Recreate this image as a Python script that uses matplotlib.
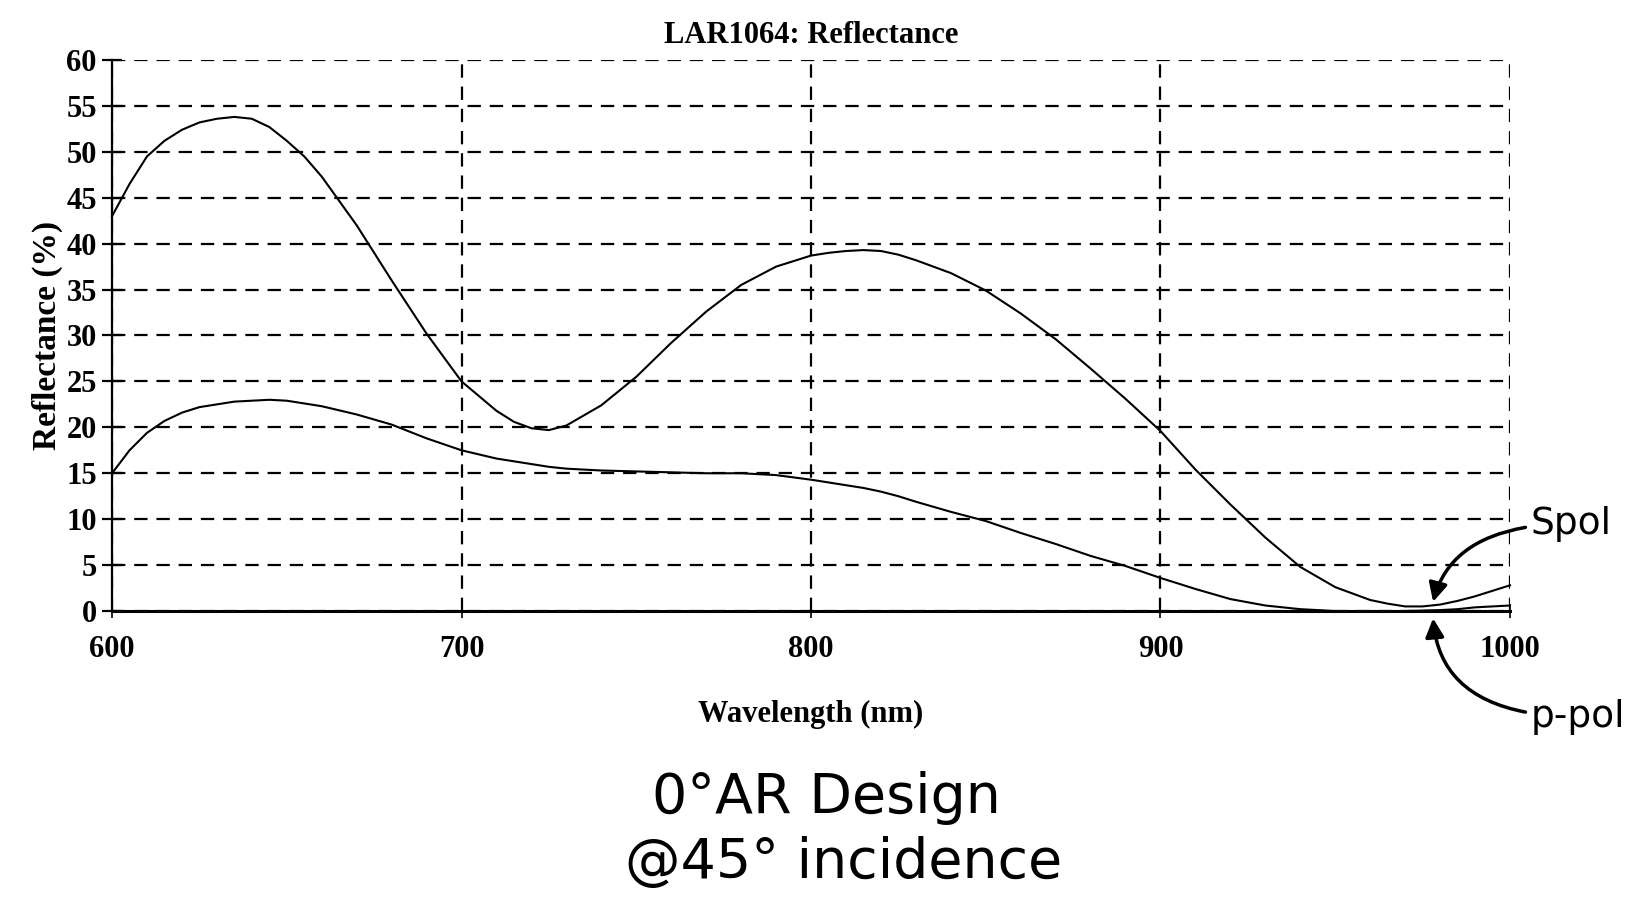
"""LAR1064 reflectance scan: s- and p-pol curves with the handwritten notes."""
import matplotlib
matplotlib.use("Agg")
import matplotlib.pyplot as plt

# ---------------------------------------------------------------------------
# Data
# ---------------------------------------------------------------------------
wavelength = [600, 605, 610, 615, 620, 625, 630, 635, 640, 645, 650, 655, 660,
              670, 680, 690, 700, 710,
              715, 720, 725, 730,
              740, 750, 760, 770, 780, 790, 800,
              805, 810, 815, 820, 825, 830,
              840, 850, 860, 870, 880, 890, 900, 910, 920, 930, 940, 950, 960,
              965, 970, 975, 980, 985, 990,
              1000]

s_pol = [43.0, 46.5, 49.5, 51.2, 52.4, 53.2, 53.6, 53.8, 53.6, 52.7, 51.2, 49.5, 47.3,
         42.0, 36.0, 30.2, 25.0, 21.8,
         20.6, 19.9, 19.7, 20.2,
         22.4, 25.5, 29.2, 32.6, 35.5, 37.5, 38.7,
         39.0, 39.2, 39.3, 39.2, 38.8, 38.2,
         36.8, 34.9, 32.4, 29.6, 26.4, 23.1, 19.6, 15.4, 11.6, 8.0, 4.8, 2.6, 1.2,
         0.8, 0.5, 0.5, 0.7, 1.1, 1.6,
         2.8]

p_pol = [15.0, 17.5, 19.4, 20.7, 21.6, 22.2, 22.5, 22.8, 22.9, 23.0, 22.9, 22.6, 22.3,
         21.4, 20.3, 18.8, 17.5, 16.6,
         16.3, 16.0, 15.7, 15.5,
         15.3, 15.2, 15.1, 15.0, 15.0, 14.8, 14.3,
         14.0, 13.7, 13.4, 13.0, 12.5, 11.9,
         10.8, 9.8, 8.5, 7.3, 6.0, 4.9, 3.6, 2.4, 1.3, 0.6, 0.2, 0.0, 0.0,
         0.0, 0.0, 0.05, 0.1, 0.2, 0.4,
         0.6]

x_ticks = [600, 700, 800, 900, 1000]
y_ticks = list(range(0, 61, 5))

TITLE = "LAR1064: Reflectance"
NOTE_1 = "0°AR Design"
NOTE_2 = "@45° incidence"

SERIF = ["Liberation Serif", "DejaVu Serif"]
HAND = ["DejaVu Sans"]

# ---------------------------------------------------------------------------
# Figure
# ---------------------------------------------------------------------------
fig = plt.figure(figsize=(16.31, 9.02), dpi=100)
fig.patch.set_facecolor("white")
ax = fig.add_axes([0.0687, 0.3226, 0.8571, 0.6109])

ax.plot(wavelength, s_pol, color="black", linewidth=1.5, clip_on=False, zorder=3)
ax.plot(wavelength, p_pol, color="black", linewidth=1.5, clip_on=False, zorder=3)

ax.set_xlim(600, 1000)
ax.set_ylim(0, 60)
ax.set_xticks(x_ticks)
ax.set_yticks(y_ticks)

# dashed grid, incl. the top (60) and right (1000) borders
ax.grid(True, color="black", linestyle=(0, (6, 4)), linewidth=1.6, zorder=1)
for spine in ("top", "right"):
    ax.spines[spine].set_visible(False)
ax.spines["left"].set_linewidth(1.6)
ax.spines["bottom"].set_linewidth(2.2)

ax.tick_params(axis="y", direction="inout", length=14, width=1.6, pad=4)
ax.tick_params(axis="x", direction="inout", length=10, width=1.2, pad=12)
for lab in ax.get_xticklabels() + ax.get_yticklabels():
    lab.set_family(SERIF)
    lab.set_fontweight("bold")
    lab.set_fontsize(22)

ax.set_title(TITLE, fontsize=22, fontweight="bold", family=SERIF, pad=12)
ax.set_xlabel("Wavelength (nm)", fontsize=22, fontweight="bold", family=SERIF,
              labelpad=26)
ax.set_ylabel("Reflectance (%)", fontsize=24, fontweight="bold", family=SERIF,
              labelpad=2)

# ---------------------------------------------------------------------------
# Handwritten annotations
# ---------------------------------------------------------------------------
ax.annotate("Spol", xy=(978, 1.0), xytext=(1006, 9.5),
            fontsize=27, family=HAND, va="center", ha="left",
            annotation_clip=False,
            arrowprops=dict(arrowstyle="-|>", color="black", linewidth=2.5,
                            mutation_scale=28, shrinkA=2, shrinkB=0,
                            connectionstyle="angle3,angleA=180,angleB=75"))
ax.annotate("p-pol", xy=(978, -0.8), xytext=(1006, -11.5),
            fontsize=27, family=HAND, va="center", ha="left",
            annotation_clip=False,
            arrowprops=dict(arrowstyle="-|>", color="black", linewidth=2.5,
                            mutation_scale=28, shrinkA=2, shrinkB=0,
                            connectionstyle="angle3,angleA=180,angleB=-85"))

fig.text(0.507, 0.115, NOTE_1, fontsize=40, family=HAND, ha="center",
         va="center")
fig.text(0.517, 0.043, NOTE_2, fontsize=40, family=HAND, ha="center",
         va="center")

fig.savefig("out.png", dpi=100, facecolor="white")
plt.close(fig)
